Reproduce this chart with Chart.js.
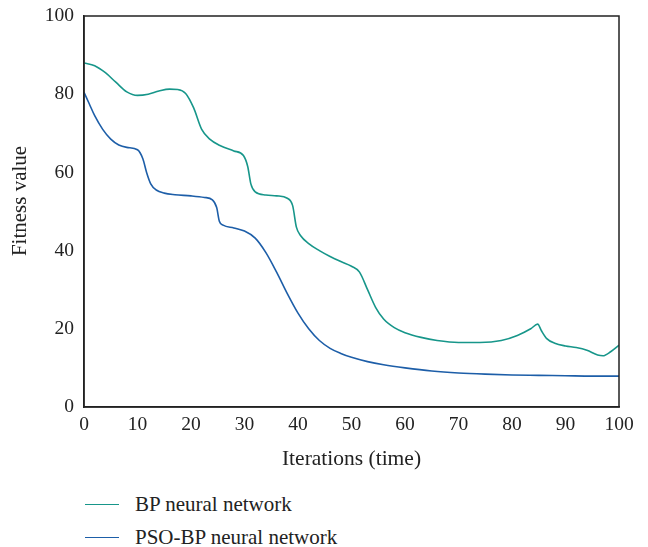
<!DOCTYPE html>
<html>
<head>
<meta charset="utf-8">
<script src="https://cdn.jsdelivr.net/npm/chart.js@4.4.0/dist/chart.umd.min.js"></script>
<style>
  body { margin: 0; background: #fff; font-family: 'Liberation Serif', serif; }
  #wrap { position: relative; width: 648px; height: 472px; }
  #legend { position: absolute; left: 85px; top: 488px; }
  .item { display: flex; align-items: center; height: 33px; font-size: 21px; color: #222; }
  .swatch { width: 34px; height: 0; border-top: 1.6px solid; margin-right: 16px; }
</style>
</head>
<body>
<div id="wrap"><canvas id="fitnessChart"></canvas></div>
<div id="legend"></div>
<script>
// values
const bpIter = [0, 2, 4, 6, 8, 10, 12, 14, 16, 17.5, 19, 20.5, 22, 23.5, 25.5, 28, 29.8, 30.6, 31.2, 32, 34, 36, 38, 39, 39.7, 40.5, 42, 44, 46, 48, 50, 51.5, 53, 54.5, 56, 58, 60, 63, 66, 70, 74, 78, 81, 83.5, 84.8, 85.5, 86.5, 88, 90, 92, 94, 96, 97, 98.5, 100];
const bpFit = [88, 87.3, 85.5, 83, 80.6, 79.7, 80, 80.8, 81.3, 81.2, 80.2, 76.5, 71, 68.5, 66.8, 65.5, 64.3, 61.5, 57, 55, 54.2, 54, 53.4, 51.5, 46, 43.8, 41.8, 40, 38.5, 37.2, 36, 34.5, 30, 25.5, 22.5, 20.3, 19, 17.8, 17, 16.5, 16.5, 17, 18.3, 20, 21.2, 19.5, 17.5, 16.3, 15.6, 15.2, 14.5, 13.3, 13.1, 14.2, 15.8];

const psoIter = [0, 1, 2, 3.5, 5, 6.5, 8, 10, 11, 11.7, 12.5, 13.5, 15, 17, 20, 22.5, 24, 24.8, 25.3, 26, 28, 30, 32, 34, 36, 38, 40, 42, 44, 46, 48, 50, 53, 56, 60, 65, 70, 75, 80, 85, 90, 95, 100];
const psoFit = [80.5, 77.5, 74.5, 71, 68.5, 67, 66.4, 65.8, 63.5, 60, 57, 55.5, 54.7, 54.3, 54, 53.6, 53, 51, 47.5, 46.5, 45.8, 45, 43.2, 39.5, 34.5, 29, 24, 20, 17, 15, 13.7, 12.7, 11.6, 10.8, 10, 9.2, 8.7, 8.4, 8.2, 8.1, 8.0, 7.9, 7.9];

const seriesNames = ['BP neural network', 'PSO-BP neural network'];
const seriesColors = ['#17968a', '#1d5ea8'];
const xTicks = [0, 10, 20, 30, 40, 50, 60, 70, 80, 90, 100];
const yTicks = [0, 20, 40, 60, 80, 100];

const FONT = "'Liberation Serif', serif";

function pts(xs, ys) {
    return xs.map((x, i) => ({ x: x, y: ys[i] }));
}

// box round the plot area
const frame = {
    id: 'frame',
    afterDraw(chart) {
        const a = chart.chartArea;
        const ctx = chart.ctx;
        ctx.save();
        ctx.strokeStyle = '#222';
        ctx.lineWidth = 1.5;
        ctx.strokeRect(a.left, a.top, a.right - a.left, a.bottom - a.top);
        ctx.restore();
    }
};

const ctx = document.getElementById('fitnessChart');
new Chart(ctx, {
    type: 'line',
    data: {
        datasets: [
            { label: seriesNames[0], data: pts(bpIter, bpFit), borderColor: seriesColors[0] },
            { label: seriesNames[1], data: pts(psoIter, psoFit), borderColor: seriesColors[1] }
        ]
    },
    options: {
        responsive: true,
        maintainAspectRatio: false,
        animation: false,
        datasets: { line: { borderWidth: 1.6, pointRadius: 0, cubicInterpolationMode: 'monotone', fill: false } },
        layout: { padding: { top: 16, right: 29, left: 0, bottom: 0 } },
        plugins: { legend: { display: false }, tooltip: { enabled: false } },
        scales: {
            x: {
                type: 'linear', min: 0, max: 100,
                grid: { display: false, drawTicks: false },
                border: { display: true, color: '#222', width: 1.5 },
                afterBuildTicks: s => { s.ticks = xTicks.map(v => ({ value: v })); },
                afterFit: s => { s.height = 65; },
                ticks: { color: '#222', padding: 6, maxRotation: 0, font: { family: FONT, size: 19.5 } },
                title: { display: true, text: 'Iterations (time)', color: '#222', padding: { top: 1, bottom: 0 }, font: { family: FONT, size: 21.5 } }
            },
            y: {
                min: 0, max: 100,
                grid: { display: false, drawTicks: false },
                border: { display: true, color: '#222', width: 1.5 },
                afterBuildTicks: s => { s.ticks = yTicks.map(v => ({ value: v })); },
                afterFit: s => { s.width = 84; s.paddingTop = 0; s.paddingBottom = 0; },
                ticks: { color: '#222', padding: 10, font: { family: FONT, size: 19.5 } },
                title: { display: true, text: '    Fitness value', color: '#222', padding: { top: 8, bottom: 0 }, font: { family: FONT, size: 21 } }
            }
        }
    },
    plugins: [frame]
});

// legend under the chart, one item per line
const legend = document.getElementById('legend');
seriesNames.forEach((name, i) => {
    const row = document.createElement('div');
    row.className = 'item';
    const sw = document.createElement('span');
    sw.className = 'swatch';
    sw.style.borderColor = seriesColors[i];
    row.appendChild(sw);
    row.appendChild(document.createTextNode(name));
    legend.appendChild(row);
});
</script>
</body>
</html>
